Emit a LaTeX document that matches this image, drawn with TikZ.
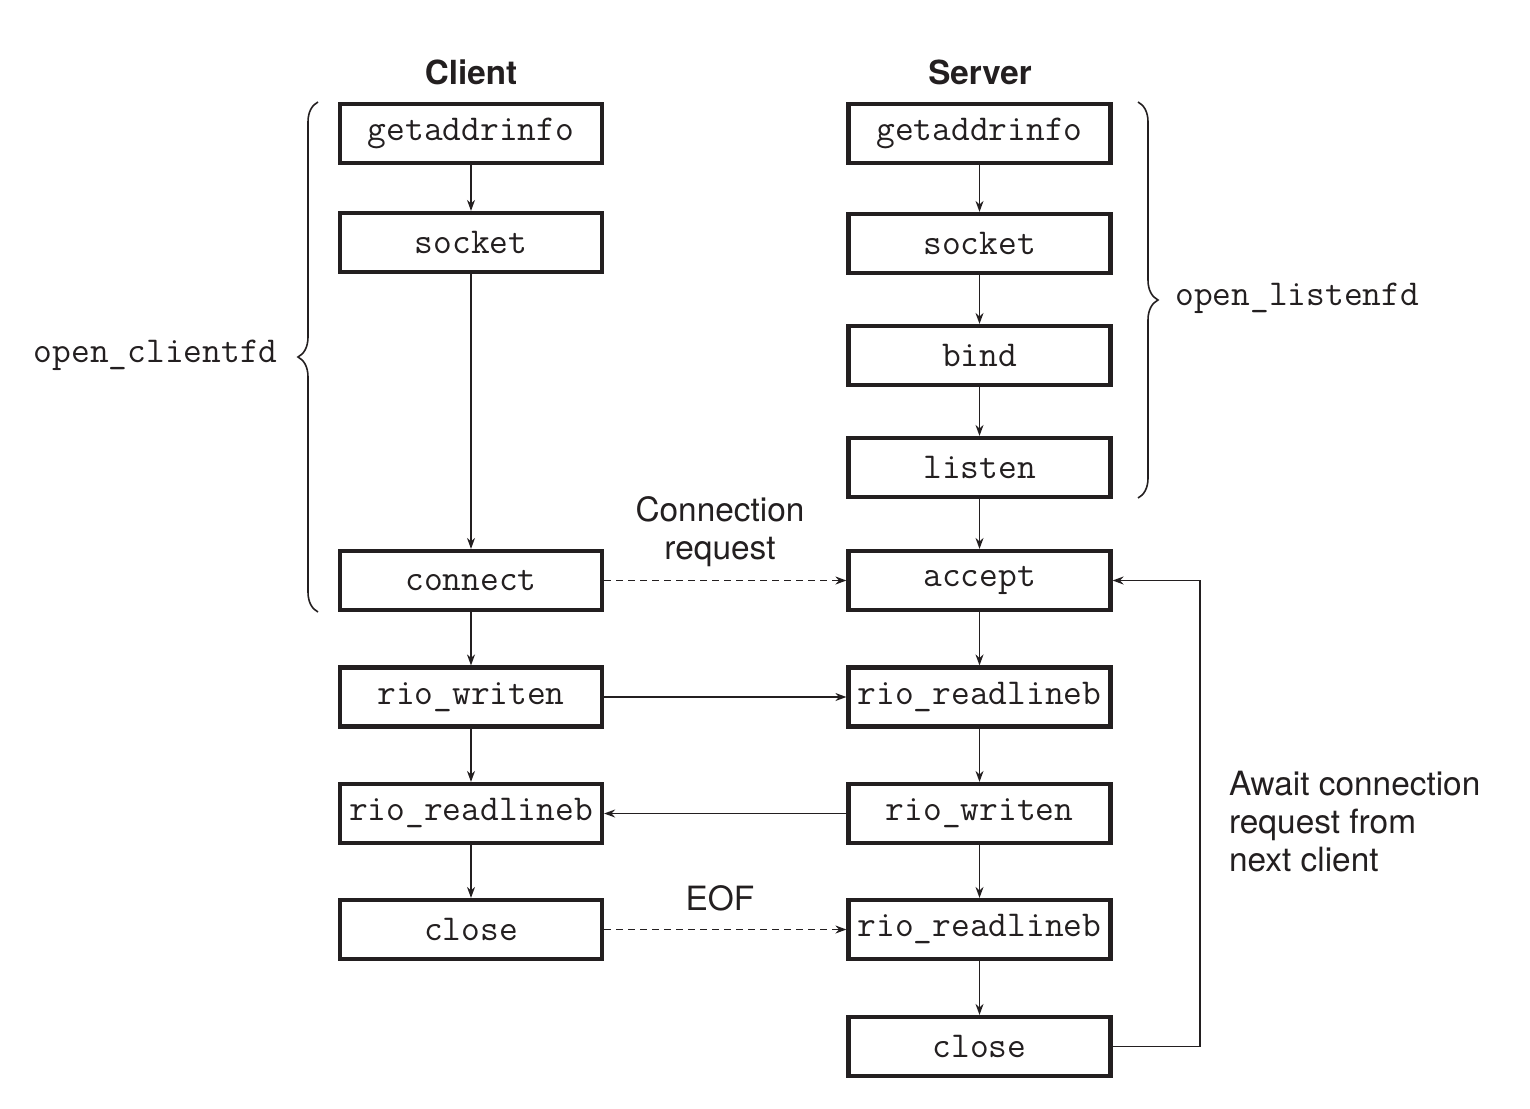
\documentclass[tikz,border=0pt]{standalone}
\usepackage{fontspec}
\setsansfont{TeX Gyre Heros}
\usetikzlibrary{arrows.meta,decorations.pathreplacing}
\definecolor{ink}{HTML}{231F20}
\begin{document}
\begin{tikzpicture}[x=0.5pt,y=-0.5pt,
  box/.style={draw=ink,line width=2.1pt,minimum width=131pt,minimum height=29.5pt,inner sep=0pt,font=\fontsize{18.2}{20}\ttfamily,text=ink},
  conn/.style={draw=ink,line width=0.8pt,-{Stealth[length=5.5pt,width=4pt]}},
  dconn/.style={conn,dash pattern=on 3.5pt off 2.5pt},
  lbl/.style={font=\fontsize{16.7}{19}\sffamily,text=ink,align=center},
  head/.style={font=\fontsize{16.6}{19}\sffamily\bfseries,text=ink},
  mono/.style={font=\fontsize{18.2}{20}\ttfamily,text=ink,inner sep=0pt},
  brc/.style={draw=ink,line width=0.8pt,decorate,decoration={brace,amplitude=10pt}}]
\useasboundingbox (0,0) rectangle (1530,1108);
% headings
\node[head] (hc) at (471,72) {Client};
\node[head] (hs) at (980,72) {Server};
% client
\node[box] (cg) at (471,133.5) {getaddrinfo};
\node[box] (cs) at (471,242.5) {socket};
\node[box] (cc) at (471,580.5) {connect};
\node[box] (cw) at (471,697) {rio\_writen};
\node[box] (cr) at (471,813.5) {rio\_readlineb};
\node[box] (ccl) at (471,929.5) {close};
% server
\node[box] (sg) at (979.5,133.5) {getaddrinfo};
\node[box] (ss) at (979.5,243.5) {socket};
\node[box] (sb) at (979.5,355.5) {bind};
\node[box] (sl) at (979.5,467.5) {listen};
\node[box] (sa) at (979.5,580.5) {accept};
\node[box] (sr1) at (979.5,697) {rio\_readlineb};
\node[box] (sw) at (979.5,813.5) {rio\_writen};
\node[box] (sr2) at (979.5,929.5) {rio\_readlineb};
\node[box] (scl) at (979.5,1046.5) {close};
% client chain
\draw[conn] (cg) -- (cs);
\draw[conn] (cs) -- (cc);
\draw[conn] (cc) -- (cw);
\draw[conn] (cw) -- (cr);
\draw[conn] (cr) -- (ccl);
% server chain
\draw[conn] (sg) -- (ss);
\draw[conn] (ss) -- (sb);
\draw[conn] (sb) -- (sl);
\draw[conn] (sl) -- (sa);
\draw[conn] (sa) -- (sr1);
\draw[conn] (sr1) -- (sw);
\draw[conn] (sw) -- (sr2);
\draw[conn] (sr2) -- (scl);
% cross
\draw[dconn] (cc) -- (sa);
\draw[conn] (cw) -- (sr1);
\draw[conn] (sw) -- (cr);
\draw[dconn] (ccl) -- (sr2);
\node[lbl] (creq) at (720,532) {Connection\\request};
\node[lbl] (eof) at (720,898) {EOF};
% feedback loop
\coordinate (fb1) at (1200,1046.5);
\coordinate (fb2) at (1200,580.5);
\draw[conn] (scl.east) -- (fb1) -- (fb2) -- (sa.east);
\node[lbl,align=left,anchor=west] (await) at (1222,822) {Await connection\\request from\\next client};
% braces
\draw[brc] (318,612) -- (318,102);
\node[mono,anchor=east] (oc) at (278,355) {open\_clientfd};
\draw[brc] (1138,102) -- (1138,498);
\node[mono,anchor=west] (ol) at (1175,298) {open\_listenfd};
\end{tikzpicture}
\end{document}
